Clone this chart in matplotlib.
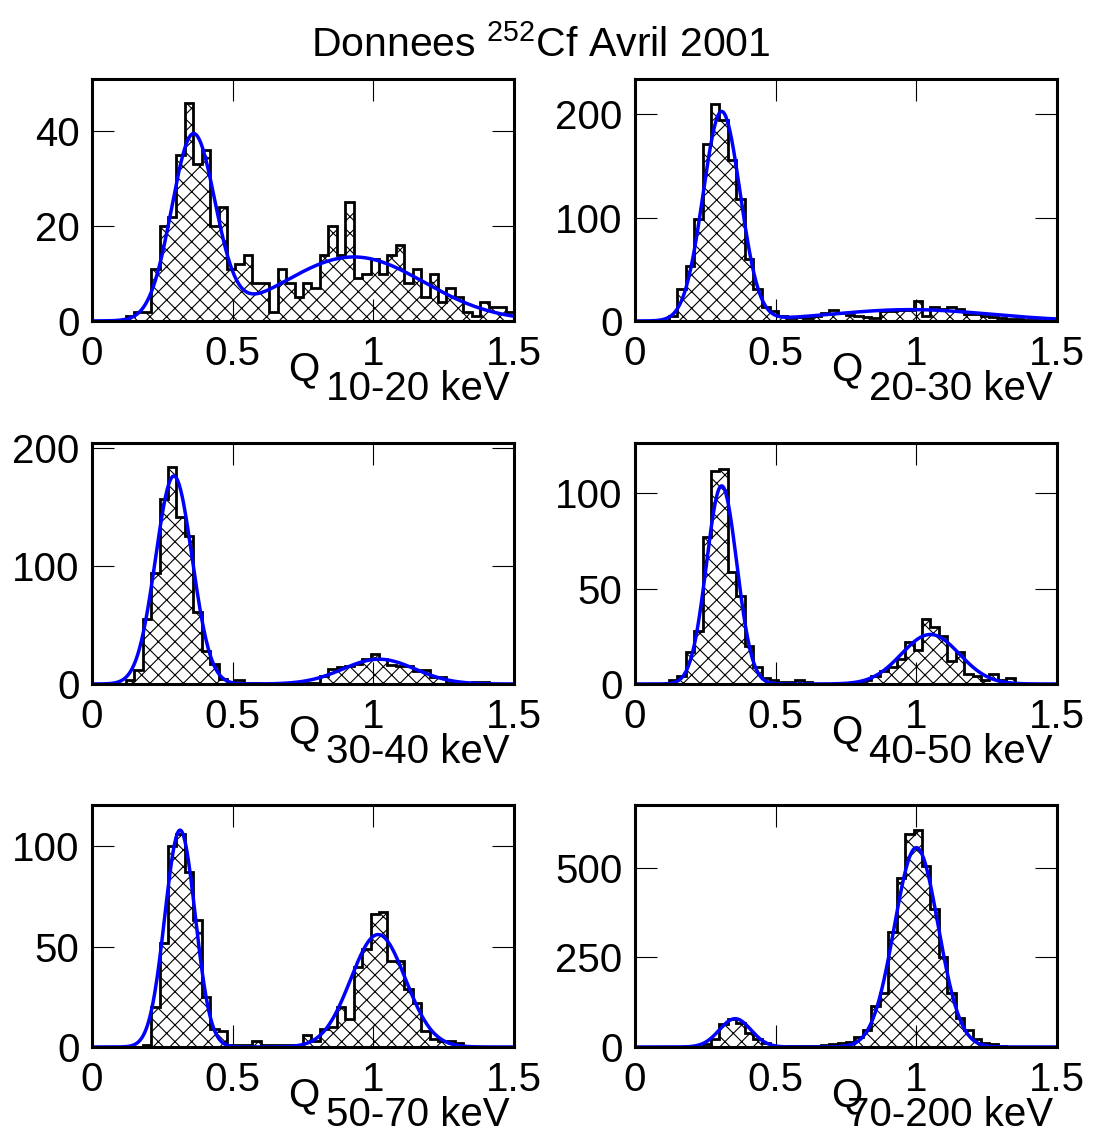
import numpy as np
import matplotlib
matplotlib.use("Agg")
import matplotlib.pyplot as plt

plt.rcParams['font.family'] = ['Liberation Sans', 'DejaVu Sans']
plt.rcParams['mathtext.default'] = 'regular'
plt.rcParams['hatch.linewidth'] = 0.8

# 50 bins of Q between 0 and 1.5
edges = np.linspace(0, 1.5, 51)

energy_bins = ["10-20 keV", "20-30 keV", "30-40 keV", "40-50 keV", "50-70 keV", "70-200 keV"]

counts_10_20 = [0, 0, 0, 0, 1, 2, 2, 11, 20, 22,
                35, 46, 33, 36, 20, 24, 11, 12, 14, 8,
                8, 2, 11, 8, 5, 8, 7, 14, 20, 14,
                25, 9, 10, 13, 10, 14, 16, 8, 11, 5,
                10, 4, 7, 5, 2, 1, 4, 3, 3, 2]
counts_20_30 = [0, 0, 0, 0, 5, 31, 53, 99, 171, 210,
                194, 156, 118, 60, 31, 14, 10, 5, 3, 4,
                3, 5, 8, 11, 8, 6, 5, 4, 3, 10,
                10, 11, 11, 19, 5, 14, 12, 14, 12, 7,
                7, 5, 4, 3, 2, 2, 1, 1, 0, 0]
counts_30_40 = [0, 0, 0, 0, 3, 12, 55, 94, 157, 184,
                141, 125, 61, 28, 17, 4, 2, 3, 1, 1,
                0, 0, 0, 0, 0, 1, 1, 7, 13, 14,
                15, 17, 21, 25, 21, 16, 15, 15, 11, 12,
                6, 6, 1, 1, 1, 2, 2, 0, 0, 0]
counts_40_50 = [0, 0, 0, 0, 2, 4, 17, 28, 77, 112,
                113, 59, 46, 20, 9, 3, 2, 1, 1, 2,
                1, 0, 0, 0, 0, 0, 1, 2, 4, 7,
                9, 13, 22, 18, 34, 30, 25, 12, 17, 5,
                4, 2, 5, 2, 3, 0, 0, 0, 0, 0]
counts_50_70 = [0, 0, 0, 0, 0, 0, 1, 20, 52, 100,
                106, 87, 63, 25, 9, 8, 1, 1, 1, 3,
                1, 1, 1, 1, 1, 6, 3, 9, 10, 20,
                14, 40, 49, 66, 67, 43, 43, 29, 22, 8,
                4, 3, 3, 2, 0, 0, 0, 0, 0, 0]
counts_70_200 = [0, 0, 0, 0, 0, 0, 0, 0, 7, 21,
                 65, 79, 68, 40, 21, 12, 3, 1, 2, 3,
                 2, 3, 6, 8, 11, 15, 28, 47, 115, 152,
                 320, 472, 593, 604, 506, 385, 250, 152, 82, 47,
                 21, 12, 7, 2, 0, 0, 0, 0, 0, 0]

# double gaussian fit parameters: amp1, mean1, sigma1, amp2, mean2, sigma2
fit_10_20 = [38.5, 0.36, 0.077, 13.5, 0.93, 0.25]
fit_20_30 = [202, 0.308, 0.066, 11, 0.98, 0.28]
fit_30_40 = [176, 0.291, 0.065, 21, 1.02, 0.128]
fit_40_50 = [104, 0.308, 0.054, 26, 1.05, 0.103]
fit_50_70 = [108, 0.313, 0.054, 56, 1.017, 0.097]
fit_70_200 = [79, 0.356, 0.056, 556, 1.0, 0.078]

counts = [counts_10_20, counts_20_30, counts_30_40, counts_40_50, counts_50_70, counts_70_200]
fits = [fit_10_20, fit_20_30, fit_30_40, fit_40_50, fit_50_70, fit_70_200]
ymax = [51, 234, 204, 126.5, 120.5, 675]
yticks = [[0, 20, 40], [0, 100, 200], [0, 100, 200], [0, 50, 100], [0, 50, 100], [0, 250, 500]]


def gaus2(x, p):
    return (p[0] * np.exp(-0.5 * ((x - p[1]) / p[2]) ** 2)
            + p[3] * np.exp(-0.5 * ((x - p[4]) / p[5]) ** 2))


W, H = 1097, 1133
fig = plt.figure(figsize=(W / 100, H / 100), dpi=100)

col_x = [92, 635]
rows = [(79, 321), (443, 684), (805, 1047)]
xs = np.linspace(0, 1.5, 600)

for i in range(6):
    r, c = divmod(i, 2)
    top, bot = rows[r]
    ax = fig.add_axes([col_x[c] / W, 1 - bot / H, 422 / W, (bot - top) / H])

    ax.stairs(counts[i], edges, fill=True, hatch='xx', facecolor='white',
              edgecolor='black', linewidth=0)
    ax.stairs(counts[i], edges, color='black', linewidth=2.0)
    ax.plot(xs, gaus2(xs, fits[i]), color='#0000ff', lw=2.5)

    ax.set_xlim(0, 1.5)
    ax.set_ylim(0, ymax[i])
    ax.set_xticks([0, 0.5, 1, 1.5])
    ax.set_xticklabels(['0', '0.5', '1', '1.5'])
    ax.set_yticks(yticks[i])
    ax.tick_params(direction='in', length=16, width=0.8, top=True, right=True, labelsize=29)
    ax.tick_params(axis='x', pad=10)
    ax.tick_params(axis='y', pad=9)
    for s in ax.spines.values():
        s.set_linewidth(2.2)

    ax.annotate('Q', xy=(0.464, 0), xycoords='axes fraction', xytext=(0, -42.5),
                textcoords='offset points', ha='left', va='baseline', fontsize=29)
    ax.annotate(energy_bins[i], xy=(0.99, 0), xycoords='axes fraction', xytext=(0, -57),
                textcoords='offset points', ha='right', va='baseline', fontsize=29)

fig.text(541 / W, 1 - 57 / H, 'Donnees $^{252}$Cf Avril 2001', ha='center',
         va='baseline', fontsize=29.5)

fig.savefig('out.png', dpi=100)
